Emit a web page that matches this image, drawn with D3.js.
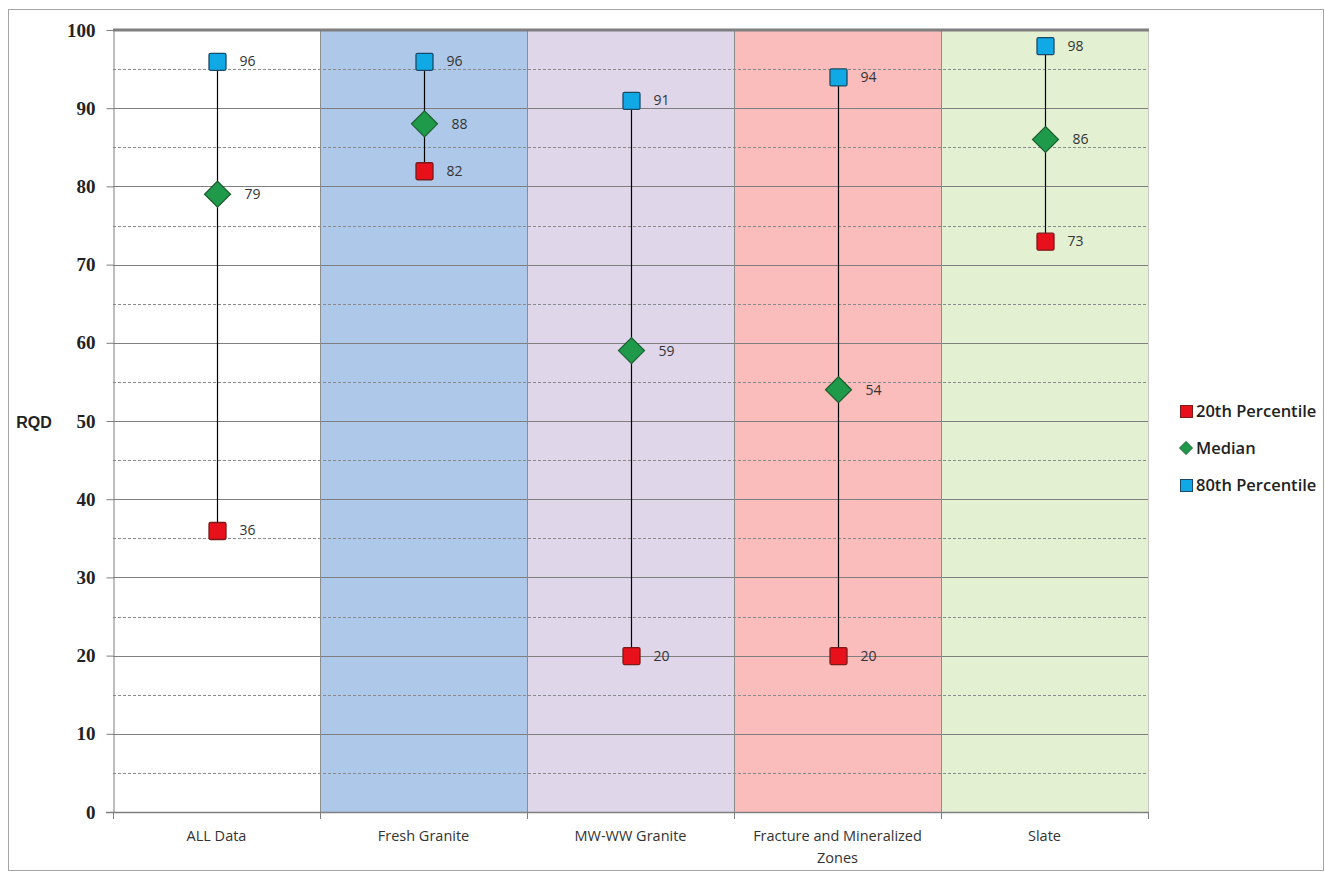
<!DOCTYPE html>
<html><head><meta charset="utf-8">
<script src="https://cdn.jsdelivr.net/npm/d3@7"></script>
<style>body{margin:0;background:#fff}</style>
</head><body>
<svg id="c" width="1325" height="876"></svg>
<script>
const categories = ["ALL Data","Fresh Granite","MW-WW Granite","Fracture and Mineralized Zones","Slate"];
const p20 = [36, 82, 20, 20, 73];
const median = [79, 88, 59, 54, 86];
const p80 = [96, 96, 91, 94, 98];
const bandColors = ["#ffffff","#adc8e8","#e0d6ea","#fbbcbc","#e4f0d2"];
const yTicks = [0,10,20,30,40,50,60,70,80,90,100];

const svg = d3.select("#c");
const L=113, R=1148, T=30, B=812;
const x = d3.scaleBand().domain(categories).range([L,R]).padding(0);
const y = d3.scaleLinear().domain([0,100]).range([B,T]);

svg.append("rect").attr("x",8.5).attr("y",9.5).attr("width",1315).attr("height",861)
  .attr("fill","#fff").attr("stroke","#a6a6a6");

// bands
svg.selectAll(".band").data(categories).join("rect")
  .attr("x",d=>x(d)).attr("y",T).attr("width",x.bandwidth()).attr("height",B-T)
  .attr("fill",(d,i)=>bandColors[i]);

// dashed minor grid
const minor = d3.range(5,100,10);
svg.selectAll(".mg").data(minor).join("line")
  .attr("x1",L).attr("x2",R).attr("y1",d=>Math.round(y(d))+0.5).attr("y2",d=>Math.round(y(d))+0.5)
  .attr("stroke","#8a8a8a").attr("stroke-dasharray","3,2").attr("stroke-width",1);
// major grid
svg.selectAll(".Mg").data(yTicks.filter(d=>d>0&&d<100)).join("line")
  .attr("x1",L).attr("x2",R).attr("y1",d=>Math.round(y(d))+0.5).attr("y2",d=>Math.round(y(d))+0.5)
  .attr("stroke","#7f7f7f").attr("stroke-width",1);

// band separators
svg.selectAll(".sep").data(categories.slice(1)).join("line")
  .attr("x1",d=>x(d)+0.5).attr("x2",d=>x(d)+0.5).attr("y1",T).attr("y2",B)
  .attr("stroke","#8c8c8c");
svg.append("line").attr("x1",R+0.5).attr("x2",R+0.5).attr("y1",T).attr("y2",B).attr("stroke","#c8c8c8");
svg.append("line").attr("x1",L).attr("x2",R+1).attr("y1",T).attr("y2",T).attr("stroke","#7f7f7f").attr("stroke-width",3);

// y axis
const ya = svg.append("g").attr("transform",`translate(${L+0.5},0)`)
  .call(d3.axisLeft(y).tickValues(yTicks).tickSize(7).tickSizeOuter(0).tickPadding(11));
ya.select(".domain").attr("stroke","#7f7f7f");
ya.selectAll(".tick line").attr("stroke","#7f7f7f");
ya.selectAll("text").attr("font-family","Liberation Serif, serif").attr("font-weight","bold")
  .attr("font-size","19px").attr("fill","#222");

// x axis
const xa = svg.append("g").attr("transform",`translate(0,${B+0.5})`)
  .call(d3.axisBottom(x).tickSize(0).tickPadding(0));
xa.select(".domain").remove();
xa.selectAll(".tick text").remove();
const xb = [L].concat(categories.map(c=>x(c)+x.bandwidth()));
svg.selectAll(".xt").data(xb).join("line")
  .attr("x1",d=>d+0.5).attr("x2",d=>d+0.5).attr("y1",B).attr("y2",B+7).attr("stroke","#7f7f7f");
svg.append("line").attr("x1",L-7).attr("x2",R+1).attr("y1",B+0.5).attr("y2",B+0.5).attr("stroke","#7f7f7f").attr("stroke-width",1.5);

const xl = svg.selectAll(".xl").data(categories).join("text")
  .attr("x",d=>x(d)+x.bandwidth()/2).attr("y",841)
  .attr("text-anchor","middle").attr("font-family","Open Sans, sans-serif").attr("font-size","14.5px").attr("fill","#333");
xl.each(function(d){
  const t=d3.select(this);
  const lines = d==="Fracture and Mineralized Zones" ? ["Fracture and Mineralized","Zones"] : [d];
  lines.forEach((s,i)=>t.append("tspan").attr("x",x(d)+x.bandwidth()/2).attr("dy",i?22:0).text(s));
});

svg.append("text").attr("x",34).attr("y",428).attr("text-anchor","middle")
  .attr("font-family","Liberation Sans, sans-serif").attr("font-weight","bold").attr("font-size","16px").attr("fill","#222").text("RQD");

const cx = d => x(d)+x.bandwidth()/2;
svg.selectAll(".rl").data(categories).join("line")
  .attr("x1",d=>Math.round(cx(d))+0.5).attr("x2",d=>Math.round(cx(d))+0.5)
  .attr("y1",(d,i)=>y(Math.max(p20[i],median[i],p80[i])))
  .attr("y2",(d,i)=>y(Math.min(p20[i],median[i],p80[i])))
  .attr("stroke","#000").attr("stroke-width",1.2);

function squares(vals, fill, stroke){
  const g = svg.append("g");
  g.selectAll("rect").data(categories).join("rect")
    .attr("x",d=>Math.round(cx(d))-8).attr("y",(d,i)=>y(vals[i])-8)
    .attr("width",17).attr("height",17).attr("rx",1.5)
    .attr("fill",fill).attr("stroke",stroke).attr("stroke-width",1.3);
  g.selectAll("text").data(categories).join("text")
    .attr("x",d=>cx(d)+23).attr("y",(d,i)=>y(vals[i])+5)
    .attr("font-family","Open Sans, sans-serif").attr("font-size","14px").attr("fill","#333")
    .text((d,i)=>vals[i]);
}
squares(p20,"#e8101a","#7a1a1a");
const dg = svg.append("g");
dg.selectAll("path").data(categories).join("path")
  .attr("d",(d,i)=>{const X=Math.round(cx(d))+0.5,Y=y(median[i]);return `M${X},${Y-13}L${X+13},${Y}L${X},${Y+13}L${X-13},${Y}Z`;})
  .attr("fill","#1f9a4a").attr("stroke","#1c5e30").attr("stroke-width",1.2);
dg.selectAll("text").data(categories).join("text")
  .attr("x",d=>cx(d)+28).attr("y",(d,i)=>y(median[i])+5)
  .attr("font-family","Open Sans, sans-serif").attr("font-size","14px").attr("fill","#333")
  .text((d,i)=>median[i]);
squares(p80,"#11a8e6","#1b4a66");

const legend = [{n:"20th Percentile",t:"sq",f:"#e8101a",s:"#7a1a1a"},{n:"Median",t:"di",f:"#1f9a4a",s:"#1c5e30"},{n:"80th Percentile",t:"sq",f:"#11a8e6",s:"#1b4a66"}];
const lg = svg.selectAll(".lg").data(legend).join("g").attr("transform",(d,i)=>`translate(1186,${411+i*37})`);
lg.each(function(d){
  const g=d3.select(this);
  if(d.t==="sq") g.append("rect").attr("x",-5.5).attr("y",-5.5).attr("width",12).attr("height",12).attr("fill",d.f).attr("stroke",d.s);
  else g.append("path").attr("d","M0,-6.5L6.5,0L0,6.5L-6.5,0Z").attr("fill",d.f).attr("stroke",d.s);
});
lg.append("text").attr("x",10).attr("y",6).attr("font-family","Open Sans, sans-serif").attr("font-weight","600")
  .attr("font-size","16.5px").attr("fill","#222").text(d=>d.n);
</script>
</body></html>
